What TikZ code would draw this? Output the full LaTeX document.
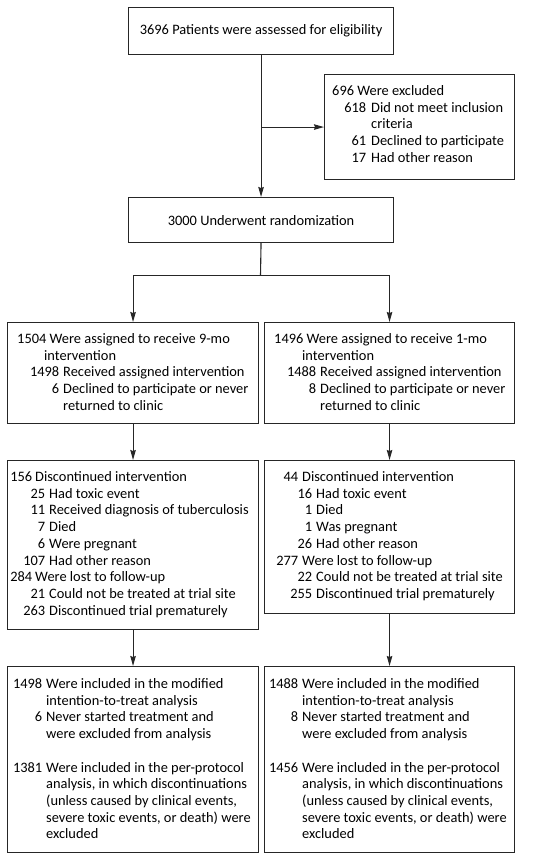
\documentclass[tikz,border=0pt]{standalone}
\usepackage{fontspec}
\setmainfont{Carlito}
\usetikzlibrary{arrows.meta}
\newcommand\nm[3]{\makebox[#1pt][r]{#2}\hspace{#3pt}}
\newcommand\ind[1]{\hspace*{#1pt}}
\begin{document}
\begin{tikzpicture}[x=1pt,y=-1pt,
  box/.style={draw=black!85, line width=1.1pt, inner sep=0pt, anchor=north west},
  txt/.style={anchor=base west, inner sep=0pt, font=\fontsize{14.4}{16.7}\selectfont},
  ctxt/.style={font=\fontsize{14.4}{16.7}\selectfont},
  conn/.style={draw=black!85, line width=1.1pt, -{Stealth[length=10pt,width=5.5pt,inset=1pt]}},
  ln/.style={draw=black!85, line width=1.1pt}]
\useasboundingbox (0,0) rectangle (533,860);

% boxes
\node[box, minimum width=265pt, minimum height=47pt] (elig) at (128,7) {};
\node[ctxt] (eligt) at (elig.center) {3696 Patients were assessed for eligibility};
\node[box, minimum width=190pt, minimum height=105pt] (excl) at (324,74) {};
\node[box, minimum width=265pt, minimum height=45pt] (rand) at (128,197) {};
\node[ctxt] (randt) at (rand.center) {3000 Underwent randomization};
\node[box, minimum width=251pt, minimum height=101pt] (L2) at (7,322) {};
\node[box, minimum width=250pt, minimum height=101pt] (R2) at (264,322) {};
\node[box, minimum width=251pt, minimum height=169pt] (L3) at (7,460) {};
\node[box, minimum width=250pt, minimum height=153pt] (R3) at (264,460) {};
\node[box, minimum width=251pt, minimum height=186pt] (L4) at (7,666) {};
\node[box, minimum width=250pt, minimum height=186pt] (R4) at (264,666) {};

% texts
\node[txt] (exclt) at (332,95.5) {\begin{tabular}[t]{@{}l@{}}
696 Were excluded\\
\nm{34}{618}{5}Did not meet inclusion\\
\ind{39}criteria\\
\nm{34}{61}{5}Declined to participate\\
\nm{34}{17}{5}Had other reason
\end{tabular}};

\node[txt] (L2t) at (17,343.5) {\begin{tabular}[t]{@{}l@{}}
1504 Were assigned to receive 9-mo\\
\ind{27}intervention\\
\nm{42}{1498}{4}Received assigned intervention\\
\nm{42}{6}{4}Declined to participate or never\\
\ind{46}returned to clinic
\end{tabular}};

\node[txt] (R2t) at (274,343.5) {\begin{tabular}[t]{@{}l@{}}
1496 Were assigned to receive 1-mo\\
\ind{28}intervention\\
\nm{42}{1488}{4}Received assigned intervention\\
\nm{42}{8}{4}Declined to participate or never\\
\ind{46}returned to clinic
\end{tabular}};

\node[txt] (L3t) at (9,481.5) {\begin{tabular}[t]{@{}l@{}}
\nm{23}{156}{3}Discontinued intervention\\
\nm{36}{25}{4}Had toxic event\\
\nm{36}{11}{4}Received diagnosis of tuberculosis\\
\nm{36}{7}{4}Died\\
\nm{36}{6}{4}Were pregnant\\
\nm{36}{107}{4}Had other reason\\
\nm{23}{284}{3}Were lost to follow-up\\
\nm{36}{21}{4}Could not be treated at trial site\\
\nm{36}{263}{4}Discontinued trial prematurely
\end{tabular}};

\node[txt] (R3t) at (278,481.5) {\begin{tabular}[t]{@{}l@{}}
\nm{20}{44}{4}Discontinued intervention\\
\nm{34}{16}{4}Had toxic event\\
\nm{34}{1}{4}Died\\
\nm{34}{1}{4}Was pregnant\\
\nm{34}{26}{4}Had other reason\\
\nm{20}{277}{4}Were lost to follow-up\\
\nm{34}{22}{4}Could not be treated at trial site\\
\nm{34}{255}{4}Discontinued trial prematurely
\end{tabular}};

\node[txt] (L4t) at (14,688.5) {\begin{tabular}[t]{@{}l@{}}
\nm{28}{1498}{4}Were included in the modified\\
\ind{32}intention-to-treat analysis\\
\nm{28}{6}{4}Never started treatment and\\
\ind{32}were excluded from analysis\\
\\
\nm{28}{1381}{4}Were included in the per-protocol\\
\ind{32}analysis, in which discontinuations\\
\ind{32}(unless caused by clinical events,\\
\ind{32}severe toxic events, or death) were\\
\ind{32}excluded
\end{tabular}};

\node[txt] (R4t) at (271,688.5) {\begin{tabular}[t]{@{}l@{}}
\nm{27}{1488}{4}Were included in the modified\\
\ind{31}intention-to-treat analysis\\
\nm{27}{8}{4}Never started treatment and\\
\ind{31}were excluded from analysis\\
\\
\nm{27}{1456}{4}Were included in the per-protocol\\
\ind{31}analysis, in which discontinuations\\
\ind{31}(unless caused by clinical events,\\
\ind{31}severe toxic events, or death) were\\
\ind{31}excluded
\end{tabular}};

% connectors
\draw[conn] (elig.south) -- (rand.north);
\coordinate (br) at (elig.south |- excl.west);
\draw[conn] (br) -- (excl.west);
\coordinate (split) at (260.5,275.5);
\coordinate (sl) at (L2.north |- split);
\coordinate (sr) at (R2.north |- split);
\draw[ln] (rand.south) -- (split);
\draw[ln, line cap=rect] (sl) -- (sr);
\draw[conn] (sl) -- (L2.north);
\draw[conn] (sr) -- (R2.north);
\draw[conn] (L2.south) -- (L3.north);
\draw[conn] (R2.south) -- (R3.north);
\draw[conn] (L3.south) -- (L4.north);
\draw[conn] (R3.south) -- (R4.north);
\end{tikzpicture}
\end{document}
